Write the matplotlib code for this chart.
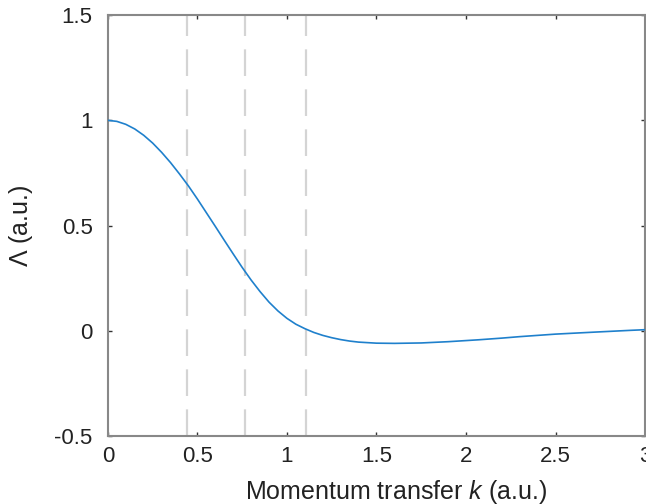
import matplotlib
matplotlib.use("Agg")
import matplotlib.pyplot as plt
from matplotlib.ticker import FuncFormatter

plt.rcParams['font.family'] = ['Liberation Sans', 'DejaVu Sans']
plt.rcParams['mathtext.fontset'] = 'custom'
plt.rcParams['mathtext.it'] = 'Liberation Sans:italic'
plt.rcParams['mathtext.rm'] = 'Liberation Sans'

# Valeurs
k_values = [0.0, 0.05, 0.1, 0.15, 0.2, 0.25, 0.3, 0.35, 0.4, 0.45, 0.5, 0.55,
            0.6, 0.65, 0.7, 0.75, 0.8, 0.85, 0.9, 0.95, 1.0, 1.05, 1.1, 1.15,
            1.2, 1.25, 1.3, 1.35, 1.4, 1.5, 1.6, 1.75, 1.9, 2.07, 2.2, 2.3,
            2.5, 2.73, 2.92, 3.0]
lambda_values = [1.0, 0.995, 0.981, 0.959, 0.929, 0.892, 0.848, 0.799, 0.745, 0.688, 0.626, 0.561,
                 0.496, 0.43, 0.365, 0.301, 0.241, 0.186, 0.136, 0.094, 0.059, 0.031, 0.01, -0.008,
                 -0.022, -0.033, -0.042, -0.049, -0.054, -0.059, -0.06, -0.058, -0.052, -0.043, -0.035, -0.028,
                 -0.016, -0.006, 0.002, 0.005]
dashed_k = [0.44, 0.765, 1.105]

x_ticks = [0, 0.5, 1, 1.5, 2, 2.5, 3]
y_ticks = [-0.5, 0, 0.5, 1, 1.5]

fig = plt.figure(figsize=(6.46, 5.04), dpi=100)
ax = fig.add_axes([0.167, 0.135, 0.8315, 0.835])

for k in dashed_k:
    ax.axvline(k, color="#d4d4d4", lw=1.6, dashes=(12, 6), zorder=1)

ax.plot(k_values, lambda_values, color="#1f80cc", lw=1.2, zorder=3)

ax.set_xlim(0, 3)
ax.set_ylim(-0.5, 1.5)
ax.set_xticks(x_ticks)
ax.set_yticks(y_ticks)
fmt = FuncFormatter(lambda v, p: "%g" % v)
ax.xaxis.set_major_formatter(fmt)
ax.yaxis.set_major_formatter(fmt)

ax.tick_params(direction="in", length=3, width=1, color="#333333",
               top=True, right=True, labelsize=16, labelcolor="#222222")
ax.tick_params(axis="y", pad=11)
ax.tick_params(axis="x", pad=7)

for s in ax.spines.values():
    s.set_color("#888888")
    s.set_linewidth(1.5)

ax.set_xlabel("Momentum transfer $k$ (a.u.)", fontsize=18, color="#222222")
ax.xaxis.set_label_coords(0.537, -0.1)
ax.set_ylabel(r"$\Lambda$ (a.u.)", fontsize=18, color="#222222", labelpad=14)

fig.savefig("out.png", dpi=100)
